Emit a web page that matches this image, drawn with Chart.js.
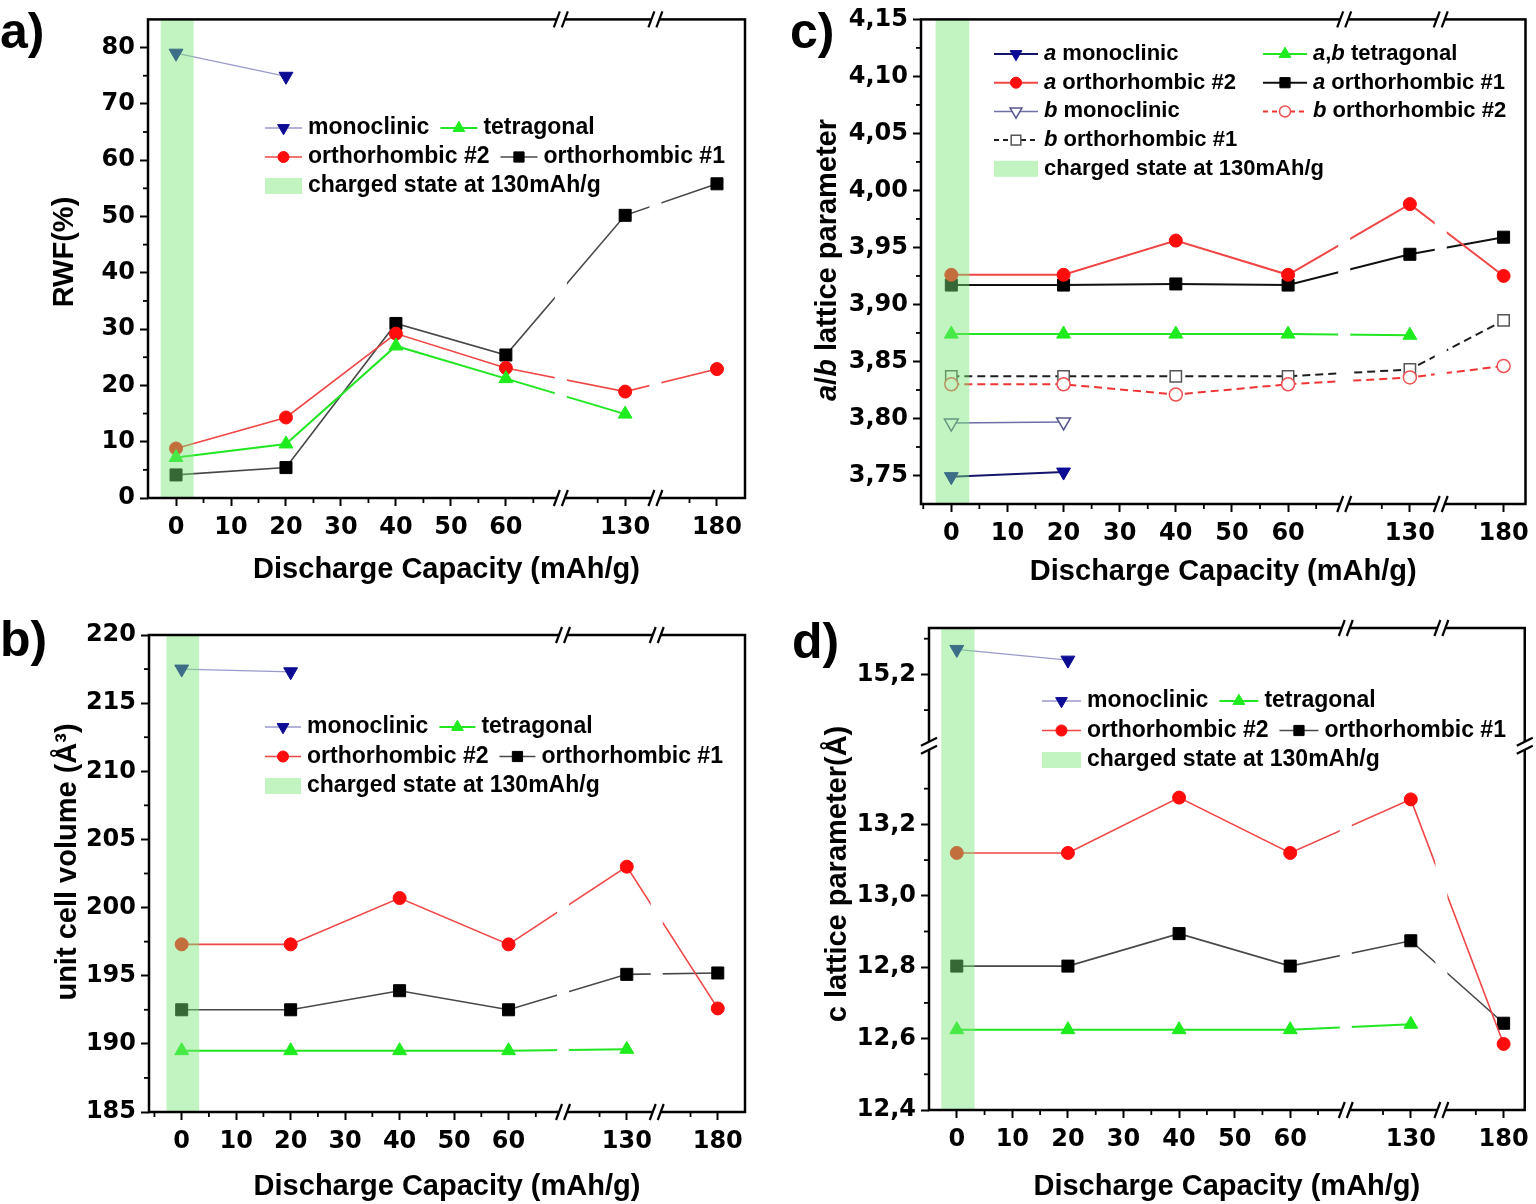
<!DOCTYPE html>
<html>
<head>
<meta charset="utf-8">
<script src="https://cdn.jsdelivr.net/npm/chart.js@4.4.1/dist/chart.umd.min.js"></script>
<style>
body { margin: 0; background: #fff; width: 1536px; height: 1204px; position: relative; overflow: hidden; }
canvas { position: absolute; }
</style>
</head>
<body>
<canvas id="panelA" width="768" height="602" style="left:0;top:0"></canvas>
<canvas id="panelB" width="768" height="602" style="left:0;top:602px"></canvas>
<canvas id="panelC" width="768" height="602" style="left:768px;top:0"></canvas>
<canvas id="panelD" width="768" height="602" style="left:768px;top:602px"></canvas>
<script>
'use strict'

// discharge capacity of the measured points and the x tick labels
const capacity = [0, 20, 40, 60, 130, 180];
const xTickValues = [0, 10, 20, 30, 40, 50, 60, 130, 180];
const xMinorValues = [-5, 5, 15, 25, 35, 45, 55, 65, 125, 175];

// a) RWF (%)
const rwfMonoclinic = [79.0, 74.9];
const rwfTetragonal = [7.2, 9.6, 27.0, 21.2, 14.9];
const rwfOrtho2 = [8.8, 14.3, 29.2, 23.1, 18.9, 22.9];
const rwfOrtho1 = [4.1, 5.4, 31.0, 25.4, 50.2, 55.8];
const rwfTicks = [0, 10, 20, 30, 40, 50, 60, 70, 80];

// b) unit cell volume (A^3)
const volMonoclinic = [217.5, 217.3];
const volTetragonal = [189.5, 189.5, 189.5, 189.5, 189.6];
const volOrtho2 = [197.3, 197.3, 200.7, 197.3, 203.0, 192.6];
const volOrtho1 = [192.5, 192.5, 193.9, 192.5, 195.1, 195.2];
const volTicks = [185, 190, 195, 200, 205, 210, 215, 220];

// c) a/b lattice parameter
const aMonoclinic = [3.749, 3.753];
const bMonoclinic = [3.796, 3.797];
const abTetragonal = [3.874, 3.874, 3.874, 3.874, 3.873];
const aOrtho2 = [3.926, 3.926, 3.956, 3.926, 3.988, 3.925];
const aOrtho1 = [3.917, 3.917, 3.918, 3.917, 3.944, 3.959];
const bOrtho2 = [3.830, 3.830, 3.821, 3.830, 3.836, 3.846];
const bOrtho1 = [3.837, 3.837, 3.837, 3.837, 3.843, 3.886];
const abTicks = [3.75, 3.80, 3.85, 3.90, 3.95, 4.00, 4.05, 4.10, 4.15];

// d) c lattice parameter
const cMonoclinic = [15.27, 15.24];
const cTetragonal = [12.625, 12.625, 12.625, 12.625, 12.64];
const cOrtho2 = [13.12, 13.12, 13.275, 13.12, 13.27, 12.585];
const cOrtho1 = [12.803, 12.803, 12.894, 12.803, 12.874, 12.643];
const cTicks = [12.4, 12.6, 12.8, 13.0, 13.2, 15.2];

const chargedBand = [-2.8, 3.2];
const bandLabel = 'charged state at 130mAh/g';
const bandColor = 'rgba(120, 230, 120, 0.45)';

// broken axes: the value ranges that are cut out
const xBreaks = [[70, 118.3], [135.5, 168.8]];
const cBreaks = [[13.42, 15.0]];

const FONT = '"Liberation Sans", Arial, sans-serif';
const TICK_FONT = '"DejaVu Sans", Verdana, sans-serif';
Chart.defaults.font.family = FONT;
Chart.defaults.color = '#000';

function cut(breaks) {
    return v => {
        let p = v;
        breaks.forEach(b => { if (v >= b[1]) p -= b[1] - b[0]; });
        return p;
    };
}
const xPos = cut(xBreaks);
const cPos = cut(cBreaks);
const same = v => v;

function points(values, ypos) {
    return values.map((v, i) => ({ x: xPos(capacity[i]), y: ypos(v) }));
}

function series(label, values, style, ypos) {
    return Object.assign({
        label: label,
        data: points(values, ypos || same),
        fill: false,
        tension: 0,
        pointBorderWidth: 1
    }, style);
}

const navy = '#0b0b94';
const green = '#1eec1e';
const red = '#ff0d0d';

const monoStyle = { borderColor: '#9a9acc', borderWidth: 1.3, pointStyle: 'triangle', pointRotation: 180, pointRadius: 8, pointBackgroundColor: navy, pointBorderColor: navy };
const tetraStyle = { borderColor: '#22e622', borderWidth: 2, pointStyle: 'triangle', pointRadius: 8, pointBackgroundColor: green, pointBorderColor: green };
const ortho2Style = { borderColor: '#f04646', borderWidth: 1.6, pointStyle: 'circle', pointRadius: 6.5, pointBackgroundColor: red, pointBorderColor: red };
const ortho1Style = { borderColor: '#474747', borderWidth: 1.6, pointStyle: 'rect', pointRadius: 8.5, pointBackgroundColor: '#000', pointBorderColor: '#000' };

const aMonoStyle = Object.assign({}, monoStyle, { borderColor: '#14146e', borderWidth: 2 });
const bMonoStyle = Object.assign({}, monoStyle, { borderColor: '#6e6ea8', borderWidth: 1.5, pointBackgroundColor: '#fff', pointBorderColor: '#55558c', pointBorderWidth: 1.5 });
const solid2 = { borderWidth: 2 };
const bOrtho2Style = Object.assign({}, ortho2Style, { borderColor: '#f03434', borderWidth: 2, borderDash: [8, 5], pointBackgroundColor: '#fff', pointBorderColor: '#f05050', pointBorderWidth: 1.5 });
const bOrtho1Style = Object.assign({}, ortho1Style, { borderColor: '#1e1e1e', borderWidth: 2, borderDash: [8, 5], pointRadius: 8, pointBackgroundColor: '#fff', pointBorderColor: '#555', pointBorderWidth: 1.5 });

function richText(ctx, text, x, y, size, align) {
    // parts between underscores are italic
    const parts = text.split('_');
    const fonts = parts.map((p, i) => (i % 2 ? 'italic ' : '') + 'bold ' + size + 'px ' + FONT);
    let total = 0;
    const widths = parts.map((p, i) => {
        ctx.font = fonts[i];
        const w = ctx.measureText(p).width;
        total += w;
        return w;
    });
    let cx = align === 'center' ? x - total / 2 : x;
    ctx.textAlign = 'left';
    ctx.textBaseline = 'middle';
    parts.forEach((p, i) => {
        ctx.font = fonts[i];
        ctx.fillText(p, cx, y);
        cx += widths[i];
    });
    return total;
}

function breakMark(ctx, px, py, onVertical) {
    ctx.fillStyle = '#fff';
    if (onVertical) ctx.fillRect(px - 3, py - 4, 6, 8);
    else ctx.fillRect(px - 4, py - 3, 8, 6);
    ctx.strokeStyle = '#000';
    ctx.lineWidth = 2.2;
    [-4, 4].forEach(d => {
        ctx.beginPath();
        if (onVertical) {
            ctx.moveTo(px - 8, py + d + 4);
            ctx.lineTo(px + 8, py + d - 4);
        } else {
            ctx.moveTo(px + d - 3, py + 8);
            ctx.lineTo(px + d + 3, py - 8);
        }
        ctx.stroke();
    });
}

function drawLegend(chart, lg) {
    const ctx = chart.ctx;
    lg.rows.forEach((row, r) => {
        const y = lg.y0 + r * lg.dy;
        let x = lg.x0;
        row.forEach((item, c) => {
            if (lg.cols) x = lg.cols[c];
            let label;
            if (item === 'band') {
                ctx.fillStyle = bandColor;
                ctx.fillRect(x, y - 8, lg.sample, 16);
                label = bandLabel;
            } else {
                const ds = chart.data.datasets[item];
                label = ds.label;
                ctx.save();
                ctx.strokeStyle = ds.borderColor;
                ctx.lineWidth = ds.borderWidth;
                ctx.setLineDash(ds.borderDash ? [5, 4] : []);
                ctx.beginPath();
                ctx.moveTo(x, y);
                ctx.lineTo(x + lg.sample, y);
                ctx.stroke();
                ctx.setLineDash([]);
                ctx.fillStyle = ds.pointBackgroundColor;
                ctx.strokeStyle = ds.pointBorderColor;
                ctx.lineWidth = ds.pointBorderWidth;
                Chart.helpers.drawPoint(ctx, {
                    pointStyle: ds.pointStyle,
                    rotation: ds.pointRotation || 0,
                    radius: ds.pointRadius * 0.85,
                    borderWidth: ds.pointBorderWidth
                }, x + lg.sample / 2, y);
                ctx.restore();
            }
            ctx.fillStyle = '#000';
            const w = richText(ctx, label, x + lg.sample + 6, y, lg.size, 'left');
            x += lg.sample + 6 + w + 11;
        });
    });
}

function makeDecor(p) {
    return {
        id: 'decor',
        afterDatasetsDraw(chart) {
            const { ctx, chartArea: ca, scales: { x } } = chart;
            ctx.save();
            // white gaps where the lines cross the axis breaks
            ctx.fillStyle = '#fff';
            xBreaks.forEach(b => {
                const px = x.getPixelForValue(xPos(b[0]));
                ctx.fillRect(px - 6, ca.top + 2, 12, ca.height - 4);
            });
            const b0 = x.getPixelForValue(chargedBand[0]);
            const b1 = x.getPixelForValue(chargedBand[1]);
            ctx.fillStyle = bandColor;
            ctx.fillRect(b0, ca.top, b1 - b0, ca.height);
            ctx.restore();
        },
        afterDraw(chart) {
            const { ctx, chartArea: ca, scales: { x, y } } = chart;
            ctx.save();
            ctx.strokeStyle = '#000';
            ctx.lineWidth = 2.5;
            ctx.strokeRect(ca.left, ca.top, ca.width, ca.height);

            // minor ticks
            ctx.lineWidth = 1.8;
            xMinorValues.forEach(v => {
                const px = x.getPixelForValue(xPos(v));
                if (px < ca.left + 2 || px > ca.right - 2) return;
                ctx.beginPath();
                ctx.moveTo(px, ca.bottom);
                ctx.lineTo(px, ca.bottom + 5);
                ctx.stroke();
            });
            p.yMinor.forEach(v => {
                const py = y.getPixelForValue(p.ypos(v));
                if (py < ca.top + 2 || py > ca.bottom - 2) return;
                ctx.beginPath();
                ctx.moveTo(ca.left - 5, py);
                ctx.lineTo(ca.left, py);
                ctx.stroke();
            });

            xBreaks.forEach(b => {
                const px = x.getPixelForValue(xPos(b[0]));
                breakMark(ctx, px, ca.top, false);
                breakMark(ctx, px, ca.bottom, false);
            });
            (p.yBreaks || []).forEach(b => {
                const py = y.getPixelForValue(p.ypos(b[0]));
                breakMark(ctx, ca.left, py, true);
                breakMark(ctx, ca.right, py, true);
            });

            ctx.fillStyle = '#000';
            richText(ctx, 'Discharge Capacity (mAh/g)', (ca.left + ca.right) / 2, p.xTitleY, 29, 'center');
            ctx.save();
            ctx.translate(p.yTitleX, p.yTitleY);
            ctx.rotate(-Math.PI / 2);
            richText(ctx, p.yTitle, 0, 0, 29, 'center');
            ctx.restore();

            ctx.font = 'bold 50px ' + FONT;
            ctx.textAlign = 'left';
            ctx.textBaseline = 'alphabetic';
            ctx.fillText(p.letter[0], p.letter[1], p.letter[2]);

            drawLegend(chart, p.legend);
            ctx.restore();
        }
    };
}

function makePanel(id, p) {
    const canvas = document.getElementById(id);
    const W = canvas.width, H = canvas.height;
    const tickFont = { family: TICK_FONT, size: 24, weight: 'bold', lineHeight: 1.2 };
    new Chart(canvas, {
        type: 'line',
        data: { datasets: p.datasets },
        options: {
            responsive: false,
            animation: false,
            devicePixelRatio: 1,
            layout: { padding: { top: p.area.top, right: W - p.area.right, left: 0, bottom: 0 } },
            plugins: { legend: { display: false }, tooltip: { enabled: false } },
            scales: {
                x: {
                    type: 'linear',
                    min: p.xRange[0],
                    max: p.xRange[1],
                    afterFit: s => { s.height = H - p.area.bottom; },
                    afterBuildTicks: s => { s.ticks = xTickValues.map(v => ({ value: xPos(v) })); },
                    ticks: {
                        font: tickFont,
                        color: '#000',
                        padding: 7,
                        maxRotation: 0,
                        autoSkip: false,
                        callback: value => {
                            const t = xTickValues.find(v => Math.abs(xPos(v) - value) < 1e-6);
                            return t === undefined ? '' : String(t);
                        }
                    },
                    grid: { drawOnChartArea: false, tickLength: 8, tickWidth: 2, tickColor: '#000' },
                    border: { display: false }
                },
                y: {
                    type: 'linear',
                    min: p.ypos(p.yRange[0]),
                    max: p.ypos(p.yRange[1]),
                    afterFit: s => { s.width = p.area.left; },
                    afterBuildTicks: s => { s.ticks = p.yTicks.map(v => ({ value: p.ypos(v) })); },
                    ticks: {
                        font: tickFont,
                        color: '#000',
                        padding: 5,
                        autoSkip: false,
                        callback: value => {
                            const t = p.yTicks.find(v => Math.abs(p.ypos(v) - value) < 1e-6);
                            return t === undefined ? '' : p.yFmt(t);
                        }
                    },
                    grid: { drawOnChartArea: false, tickLength: 8, tickWidth: 2, tickColor: '#000' },
                    border: { display: false }
                }
            }
        },
        plugins: [makeDecor(p)]
    });
}

makePanel('panelA', {
    datasets: [
        series('monoclinic', rwfMonoclinic, monoStyle),
        series('tetragonal', rwfTetragonal, tetraStyle),
        series('orthorhombic #2', rwfOrtho2, ortho2Style),
        series('orthorhombic #1', rwfOrtho1, ortho1Style)
    ],
    area: { left: 148, top: 17, right: 745, bottom: 498 },
    xRange: [-5.1, 103.5],
    yRange: [0, 85],
    yTicks: rwfTicks,
    yMinor: [5, 15, 25, 35, 45, 55, 65, 75],
    ypos: same,
    yFmt: v => String(v),
    yTitle: 'RWF(%)',
    yTitleX: 65, yTitleY: 252, xTitleY: 570,
    letter: ['a)', 0, 48],
    legend: { x0: 265, y0: 128, dy: 29, sample: 37, size: 23, rows: [[0, 1], [2, 3], ['band']] }
});

makePanel('panelB', {
    datasets: [
        series('monoclinic', volMonoclinic, monoStyle),
        series('tetragonal', volTetragonal, tetraStyle),
        series('orthorhombic #2', volOrtho2, ortho2Style),
        series('orthorhombic #1', volOrtho1, ortho1Style)
    ],
    area: { left: 149, top: 33, right: 745, bottom: 510 },
    xRange: [-6, 103.4],
    yRange: [185, 220],
    yTicks: volTicks,
    yMinor: [187.5, 192.5, 197.5, 202.5, 207.5, 212.5, 217.5],
    ypos: same,
    yFmt: v => String(v),
    yTitle: 'unit cell volume (Å³)',
    yTitleX: 68, yTitleY: 260, xTitleY: 585,
    letter: ['b)', 0, 54],
    legend: { x0: 265, y0: 125, dy: 29.5, sample: 36, size: 23, rows: [[0, 1], [2, 3], ['band']] }
});

makePanel('panelC', {
    datasets: [
        series('_a_ monoclinic', aMonoclinic, aMonoStyle),
        series('_a_,_b_ tetragonal', abTetragonal, tetraStyle),
        series('_a_ orthorhombic #2', aOrtho2, Object.assign({}, ortho2Style, solid2)),
        series('_a_ orthorhombic #1', aOrtho1, Object.assign({}, ortho1Style, solid2, { borderColor: '#111' })),
        series('_b_ monoclinic', bMonoclinic, bMonoStyle),
        series('_b_ orthorhombic #2', bOrtho2, bOrtho2Style),
        series('_b_ orthorhombic #1', bOrtho1, bOrtho1Style)
    ],
    area: { left: 153, top: 16, right: 763, bottom: 504 },
    xRange: [-5.4, 102.3],
    yRange: [3.725, 4.15],
    yTicks: abTicks,
    yMinor: [3.775, 3.825, 3.875, 3.925, 3.975, 4.025, 4.075, 4.125],
    ypos: same,
    yFmt: v => v.toFixed(2).replace('.', ','),
    yTitle: '_a_/_b_ lattice parameter',
    yTitleX: 60, yTitleY: 260, xTitleY: 572,
    letter: ['c)', 22, 48],
    legend: { x0: 226, cols: [226, 495], y0: 54, dy: 28.7, sample: 44, size: 22, rows: [[0, 1], [2, 3], [4, 5], [6], ['band']] }
});

makePanel('panelD', {
    datasets: [
        series('monoclinic', cMonoclinic, monoStyle, cPos),
        series('tetragonal', cTetragonal, tetraStyle, cPos),
        series('orthorhombic #2', cOrtho2, ortho2Style, cPos),
        series('orthorhombic #1', cOrtho1, ortho1Style, cPos)
    ],
    area: { left: 161, top: 26, right: 764, bottom: 508 },
    xRange: [-5.0, 102.2],
    yRange: [12.4, 15.33],
    yTicks: cTicks,
    yMinor: [12.5, 12.7, 12.9, 13.1, 13.3, 15.1, 15.3],
    yBreaks: cBreaks,
    ypos: cPos,
    yFmt: v => v.toFixed(1).replace('.', ','),
    yTitle: 'c lattice parameter(Å)',
    yTitleX: 70, yTitleY: 272, xTitleY: 585,
    letter: ['d)', 24, 56],
    legend: { x0: 274, y0: 99, dy: 29.5, sample: 39, size: 23, rows: [[0, 1], [2, 3], ['band']] }
});
</script>
</body>
</html>
